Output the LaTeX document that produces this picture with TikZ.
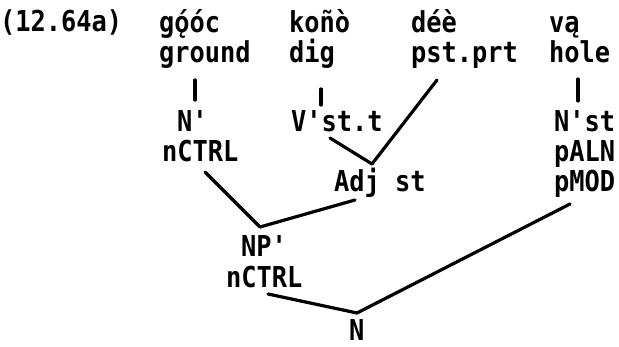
\documentclass[tikz,border=0pt]{standalone}
\usepackage{fontspec}
\setmonofont{DejaVu Sans Mono}[FakeStretch=0.88]
\begin{document}
\begin{tikzpicture}[x=1pt,y=-1pt,
  txt/.style={inner sep=0pt, anchor=base west, font=\ttfamily\bfseries\fontsize{28.8}{32}\selectfont},
  ln/.style={line width=3.2pt, line cap=round}]
\useasboundingbox (0,0) rectangle (619,347);
% example number
\node[txt] (ex) at (0,32) {(12.64a)};
% row 1: words
\node[txt] (w1) at (159,33) {g{\accent"00B4 ǫ}óc};
\node[txt] (w2) at (289,33) {koñò};
\node[txt] (w3) at (411,33) {déè};
\node[txt] (w4) at (549,33) {vą};
% row 2: glosses
\node[txt] (g1) at (159,63) {ground};
\node[txt] (g2) at (289,63) {dig};
\node[txt] (g3) at (411,63) {pst.prt};
\node[txt] (g4) at (549,63) {hole};
% row 3
\node[txt] (n1) at (177,132) {N'};
\node[txt] (v1) at (291,132) {V'st.t};
\node[txt] (n2) at (554,132) {N'st};
% row 4
\node[txt] (c1) at (162,162) {nCTRL};
\node[txt] (p1) at (554,162) {pALN};
% row 5
\node[txt] (adj) at (334,192) {Adj st};
\node[txt] (p2) at (554,192) {pMOD};
% lower
\node[txt] (np) at (241,257) {NP'};
\node[txt] (c2) at (226,288) {nCTRL};
\node[txt] (nn) at (349,341) {N};
% junction coordinates
\coordinate (jadj) at (372,164);
\coordinate (jnp) at (260,227);
\coordinate (jn) at (357,313);
\coordinate (b1) at (195,80);
\coordinate (b2) at (321,89);
\coordinate (b4) at (578,79);
\coordinate (s3) at (437,80);
\coordinate (sv) at (330,138);
\coordinate (sc1) at (205,172);
\coordinate (sadj) at (355,200);
\coordinate (sc2) at (268,294);
\coordinate (sp2) at (570,204);
% connectors
\draw[ln] (b1) -- ++(0,20);
\draw[ln] (b2) -- ++(0,16);
\draw[ln] (b4) -- ++(0,22);
\draw[ln] (s3) -- (jadj);
\draw[ln] (sv) -- (jadj);
\draw[ln] (sc1) -- (jnp);
\draw[ln] (sadj) -- (jnp);
\draw[ln] (sc2) -- (jn);
\draw[ln] (sp2) -- (jn);
\end{tikzpicture}
\end{document}
